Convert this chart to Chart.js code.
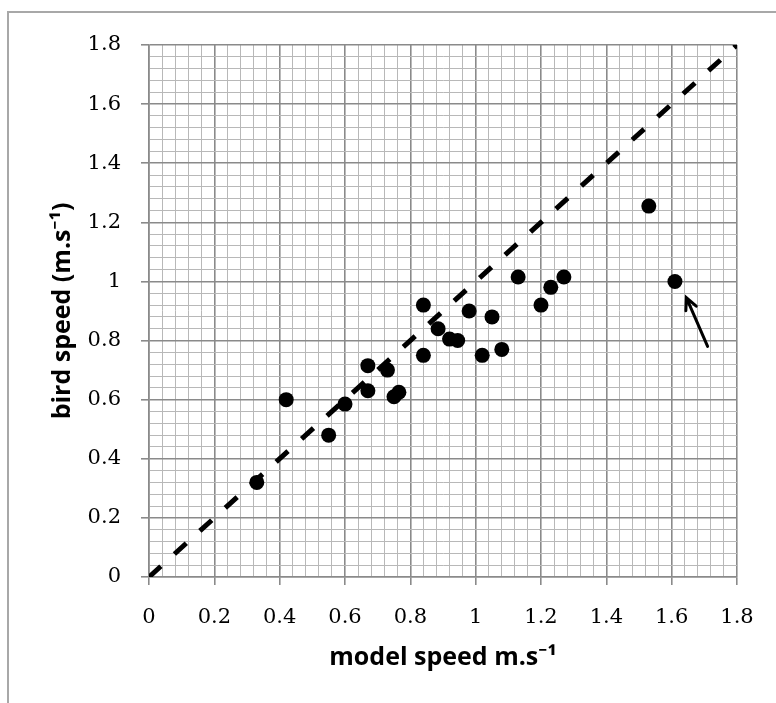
<!DOCTYPE html>
<html>
<head>
<meta charset="utf-8">
<script src="https://cdn.jsdelivr.net/npm/chart.js@4"></script>
<style>
  body { margin: 0; background: #fff; }
  canvas { display: block; }
</style>
</head>
<body>
<canvas id="chart" width="776" height="703"></canvas>
<script>
// data
const modelSpeed = [0.33, 0.42, 0.55, 0.60, 0.67, 0.67, 0.73, 0.75, 0.765, 0.84, 0.84, 0.885,
    0.92, 0.945, 0.98, 1.02, 1.05, 1.08, 1.13, 1.20, 1.23, 1.27, 1.53, 1.61];
const birdSpeed = [0.32, 0.60, 0.48, 0.585, 0.715, 0.63, 0.70, 0.61, 0.625, 0.92, 0.75, 0.84,
    0.805, 0.80, 0.90, 0.75, 0.88, 0.77, 1.015, 0.92, 0.98, 1.015, 1.255, 1.00];
const lineX = [0, 1.8];
const lineY = [0, 1.8];
const arrowX = [1.71, 1.645];
const arrowY = [0.78, 0.945];
const axisMin = 0;
const axisMax = 1.8;
const minorStep = 0.04;
const majorStep = 0.2;

const xTitle = 'model speed m.s\u207B\u00B9';
const yTitle = 'bird speed (m.s\u207B\u00B9)';

function isMajor(v) {
    const r = v / majorStep;
    return Math.abs(r - Math.round(r)) < 1e-6;
}

function tickLabel(v) {
    return isMajor(v) ? String(Math.round(v * 10) / 10) : '';
}

const tickFont = { family: "'DejaVu Serif', serif", size: 21 };
const titleFont = { family: "'Open Sans', 'Noto Sans', sans-serif", size: 25, weight: 'bold' };

function gridOpts() {
    return {
        color: ctx => isMajor(ctx.tick.value) ? '#8a8a8a' : '#b8b8b8',
        lineWidth: ctx => isMajor(ctx.tick.value) ? 1.6 : 1,
        tickColor: ctx => isMajor(ctx.tick.value) ? '#8a8a8a' : 'rgba(0,0,0,0)',
        tickLength: 8,
        drawTicks: true
    };
}

// grey frame round the whole figure, like the pasted picture
const framePlugin = {
    id: 'frame',
    beforeDraw(chart) {
        const ctx = chart.ctx;
        ctx.save();
        ctx.fillStyle = '#fff';
        ctx.fillRect(0, 0, chart.width, chart.height);
        ctx.strokeStyle = '#a8a8a8';
        ctx.lineWidth = 2;
        ctx.beginPath();
        ctx.moveTo(8, chart.height);
        ctx.lineTo(8, 12);
        ctx.lineTo(chart.width, 12);
        ctx.stroke();
        ctx.restore();
    }
};

// the arrow pointing at the outlier
const arrowPlugin = {
    id: 'arrow',
    afterDatasetsDraw(chart) {
        const xs = chart.scales.x;
        const ys = chart.scales.y;
        const x0 = xs.getPixelForValue(arrowX[0]);
        const y0 = ys.getPixelForValue(arrowY[0]);
        const x1 = xs.getPixelForValue(arrowX[1]);
        const y1 = ys.getPixelForValue(arrowY[1]);
        const ang = Math.atan2(y1 - y0, x1 - x0);
        const head = 13;
        const ctx = chart.ctx;
        ctx.save();
        ctx.strokeStyle = '#000';
        ctx.lineWidth = 3;
        ctx.lineCap = 'round';
        ctx.beginPath();
        ctx.moveTo(x0, y0);
        ctx.lineTo(x1, y1);
        ctx.moveTo(x1 - head * Math.cos(ang - 0.45), y1 - head * Math.sin(ang - 0.45));
        ctx.lineTo(x1, y1);
        ctx.lineTo(x1 - head * Math.cos(ang + 0.45), y1 - head * Math.sin(ang + 0.45));
        ctx.stroke();
        ctx.restore();
    }
};

new Chart(document.getElementById('chart').getContext('2d'), {
    type: 'scatter',
    data: {
        datasets: [{
            type: 'line',
            data: lineX.map((x, i) => ({ x: x, y: lineY[i] })),
            borderColor: '#000',
            borderWidth: 5,
            borderDash: [16, 18.3],
            pointRadius: 0,
            fill: false
        }, {
            data: modelSpeed.map((x, i) => ({ x: x, y: birdSpeed[i] })),
            backgroundColor: '#000',
            borderWidth: 0,
            pointRadius: 7.5
        }]
    },
    options: {
        responsive: false,
        animation: false,
        layout: { padding: { top: 45, right: 39, left: 0, bottom: 0 } },
        plugins: {
            legend: { display: false },
            tooltip: { enabled: false }
        },
        scales: {
            x: {
                type: 'linear',
                min: axisMin,
                max: axisMax,
                afterFit(scale) { scale.height = 126; },
                grid: gridOpts(),
                border: { color: '#8a8a8a', width: 1.6 },
                ticks: {
                    stepSize: minorStep,
                    autoSkip: false,
                    maxRotation: 0,
                    padding: 20,
                    color: '#000',
                    font: tickFont,
                    callback: tickLabel
                },
                title: {
                    display: true,
                    text: xTitle,
                    color: '#000',
                    font: titleFont,
                    padding: { top: 0, bottom: 30 }
                }
            },
            y: {
                type: 'linear',
                min: axisMin,
                max: axisMax,
                afterFit(scale) { scale.width = 149; },
                grid: gridOpts(),
                border: { color: '#8a8a8a', width: 1.6 },
                ticks: {
                    stepSize: minorStep,
                    autoSkip: false,
                    padding: 20,
                    color: '#000',
                    font: tickFont,
                    callback: tickLabel
                },
                title: {
                    display: true,
                    text: yTitle,
                    color: '#000',
                    font: titleFont,
                    padding: { top: 48, bottom: 0 }
                }
            }
        }
    },
    plugins: [framePlugin, arrowPlugin]
});
</script>
</body>
</html>
